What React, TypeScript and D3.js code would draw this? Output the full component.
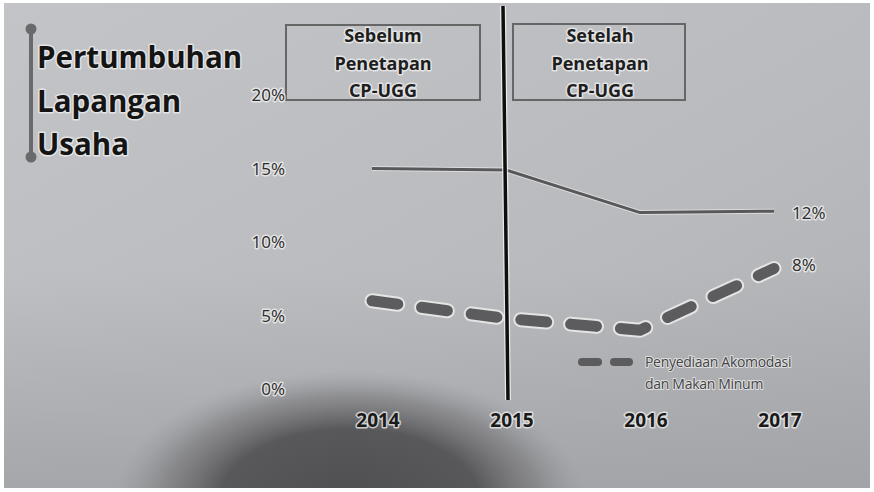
import React from "react";
import * as d3 from "d3";

const years = ["2014", "2015", "2016", "2017"];
const totalGrowth = [15.0, 14.9, 12.0, 12.1];
const akomodasiGrowth = [6.0, 4.8, 4.0, 8.2];
const yTicks = [0, 5, 10, 15, 20];
const titleLines = ["Pertumbuhan", "Lapangan", "Usaha"];
const boxBefore = ["Sebelum", "Penetapan", "CP-UGG"];
const boxAfter = ["Setelah", "Penetapan", "CP-UGG"];
const endLabels = ["12%", "8%"];
const legendLines = ["Penyediaan Akomodasi", "dan Makan Minum"];

const W = 874;
const H = 492;
const FONT = "'Open Sans', 'Noto Sans', sans-serif";

export default function App() {
  const x = d3.scalePoint<string>().domain(years).range([372, 774]);
  const y = d3.scaleLinear().domain([0, 20]).range([389, 95]);

  const line = d3
    .line<number>()
    .x((_, i) => x(years[i]) as number)
    .y((d) => y(d));

  const halo = {
    stroke: "rgba(240,240,240,0.75)",
    strokeWidth: 3,
    paintOrder: "stroke" as const,
    strokeLinejoin: "round" as const,
  };

  return (
    <div style={{ position: "absolute", left: 0, top: 0, width: W, height: H, overflow: "hidden" }}>
      <svg width={W} height={H} style={{ display: "block" }}>
        <defs>
          <linearGradient id="bg" x1="0" y1="0" x2="1" y2="1">
            <stop offset="0" stopColor="#c3c4c7" />
            <stop offset="0.6" stopColor="#b9babd" />
            <stop offset="1" stopColor="#aeafb2" />
          </linearGradient>
          <linearGradient id="bgl" x1="0" y1="0" x2="0" y2="1">
            <stop offset="0.55" stopColor="#a4a5a8" stopOpacity="0" />
            <stop offset="1" stopColor="#a0a1a4" stopOpacity="0.8" />
          </linearGradient>
          <radialGradient
            id="shadow"
            cx="350"
            cy="500"
            r="235"
            gradientUnits="userSpaceOnUse"
            gradientTransform="translate(350 500) scale(1 0.55) translate(-350 -500)"
          >
            <stop offset="0" stopColor="#4f4f52" stopOpacity="1" />
            <stop offset="0.55" stopColor="#545457" stopOpacity="0.95" />
            <stop offset="0.8" stopColor="#6c6c6f" stopOpacity="0.5" />
            <stop offset="1" stopColor="#8a8b8e" stopOpacity="0" />
          </radialGradient>
        </defs>
        <rect x={0} y={0} width={W} height={H} fill="#ffffff" />
        <rect x={4} y={3} width={W - 8} height={H - 7} fill="url(#bg)" />
        <rect x={4} y={3} width={W - 8} height={H - 7} fill="url(#bgl)" />
        <rect x={4} y={3} width={W - 8} height={H - 7} fill="url(#shadow)" />

        {/* title bar */}
        <line x1={31} y1={29} x2={31} y2={157} stroke="#6a6a6c" strokeWidth={4} />
        <circle cx={31} cy={29} r={5.5} fill="#6a6a6c" />
        <circle cx={31} cy={157} r={5.5} fill="#6a6a6c" />
        {titleLines.map((t, i) => (
          <text
            key={t}
            x={37}
            y={68 + i * 43.5}
            fontFamily={FONT}
            fontWeight={700}
            fontSize={29.5}
            fill="#141414"
            {...halo}
          >
            {t}
          </text>
        ))}

        {/* boxes */}
        <rect x={286} y={25} width={194} height={75} fill="none" stroke="#666" strokeWidth={2} />
        <rect x={513} y={24} width={172} height={76} fill="none" stroke="#666" strokeWidth={2} />
        {boxBefore.map((t, i) => (
          <text
            key={"b" + i}
            x={383}
            y={42 + i * 27.5}
            textAnchor="middle"
            fontFamily={FONT}
            fontWeight={700}
            fontSize={18}
            fill="#1e1e1e"
            {...halo}
          >
            {t}
          </text>
        ))}
        {boxAfter.map((t, i) => (
          <text
            key={"a" + i}
            x={600}
            y={42 + i * 27.5}
            textAnchor="middle"
            fontFamily={FONT}
            fontWeight={700}
            fontSize={18}
            fill="#1e1e1e"
            {...halo}
          >
            {t}
          </text>
        ))}

        {/* y ticks */}
        {yTicks.map((v) => (
          <text
            key={v}
            x={285}
            y={y(v) + 6}
            textAnchor="end"
            fontFamily={FONT}
            fontSize={17}
            fill="#2a2a2a"
            {...halo}
          >
            {v}%
          </text>
        ))}

        {/* x labels */}
        {years.map((yr) => (
          <text
            key={yr}
            x={(x(yr) as number) + 6}
            y={427}
            textAnchor="middle"
            fontFamily={FONT}
            fontWeight={700}
            fontSize={19}
            fill="#1a1a1a"
            {...halo}
          >
            {yr}
          </text>
        ))}

        {/* solid line */}
        <path
          d={line(totalGrowth) || ""}
          fill="none"
          stroke="rgba(235,235,235,0.7)"
          strokeWidth={5}
        />
        <path d={line(totalGrowth) || ""} fill="none" stroke="#58585a" strokeWidth={3} />

        {/* dashed line */}
        <path
          d={line(akomodasiGrowth) || ""}
          fill="none"
          stroke="rgba(240,240,240,0.8)"
          strokeWidth={15}
          strokeDasharray="26 24"
          strokeLinecap="round"
          strokeLinejoin="round"
        />
        <path
          d={line(akomodasiGrowth) || ""}
          fill="none"
          stroke="#5c5c5e"
          strokeWidth={11}
          strokeDasharray="26 24"
          strokeLinecap="round"
          strokeLinejoin="round"
        />

        {/* vertical separator */}
        <line x1={503} y1={6} x2={508} y2={400} stroke="rgba(245,245,245,0.8)" strokeWidth={6} />
        <line x1={503} y1={6} x2={508} y2={400} stroke="#0e0e0e" strokeWidth={3.5} />

        {/* end labels */}
        <text x={792} y={219} fontFamily={FONT} fontSize={17} fill="#2a2a2a" {...halo}>
          {endLabels[0]}
        </text>
        <text x={792} y={271} fontFamily={FONT} fontSize={17} fill="#2a2a2a" {...halo}>
          {endLabels[1]}
        </text>

        {/* legend */}
        <line x1={582} y1={362} x2={598} y2={362} stroke="#5c5c5e" strokeWidth={8} strokeLinecap="round" />
        <line x1={614} y1={362} x2={629} y2={362} stroke="#5c5c5e" strokeWidth={8} strokeLinecap="round" />
        {legendLines.map((t, i) => (
          <text
            key={t}
            x={645}
            y={367 + i * 22}
            fontFamily={FONT}
            fontSize={14}
            fill="#444"
            letterSpacing={-0.3}
            {...halo}
            strokeWidth={2}
          >
            {t}
          </text>
        ))}
      </svg>
    </div>
  );
}
